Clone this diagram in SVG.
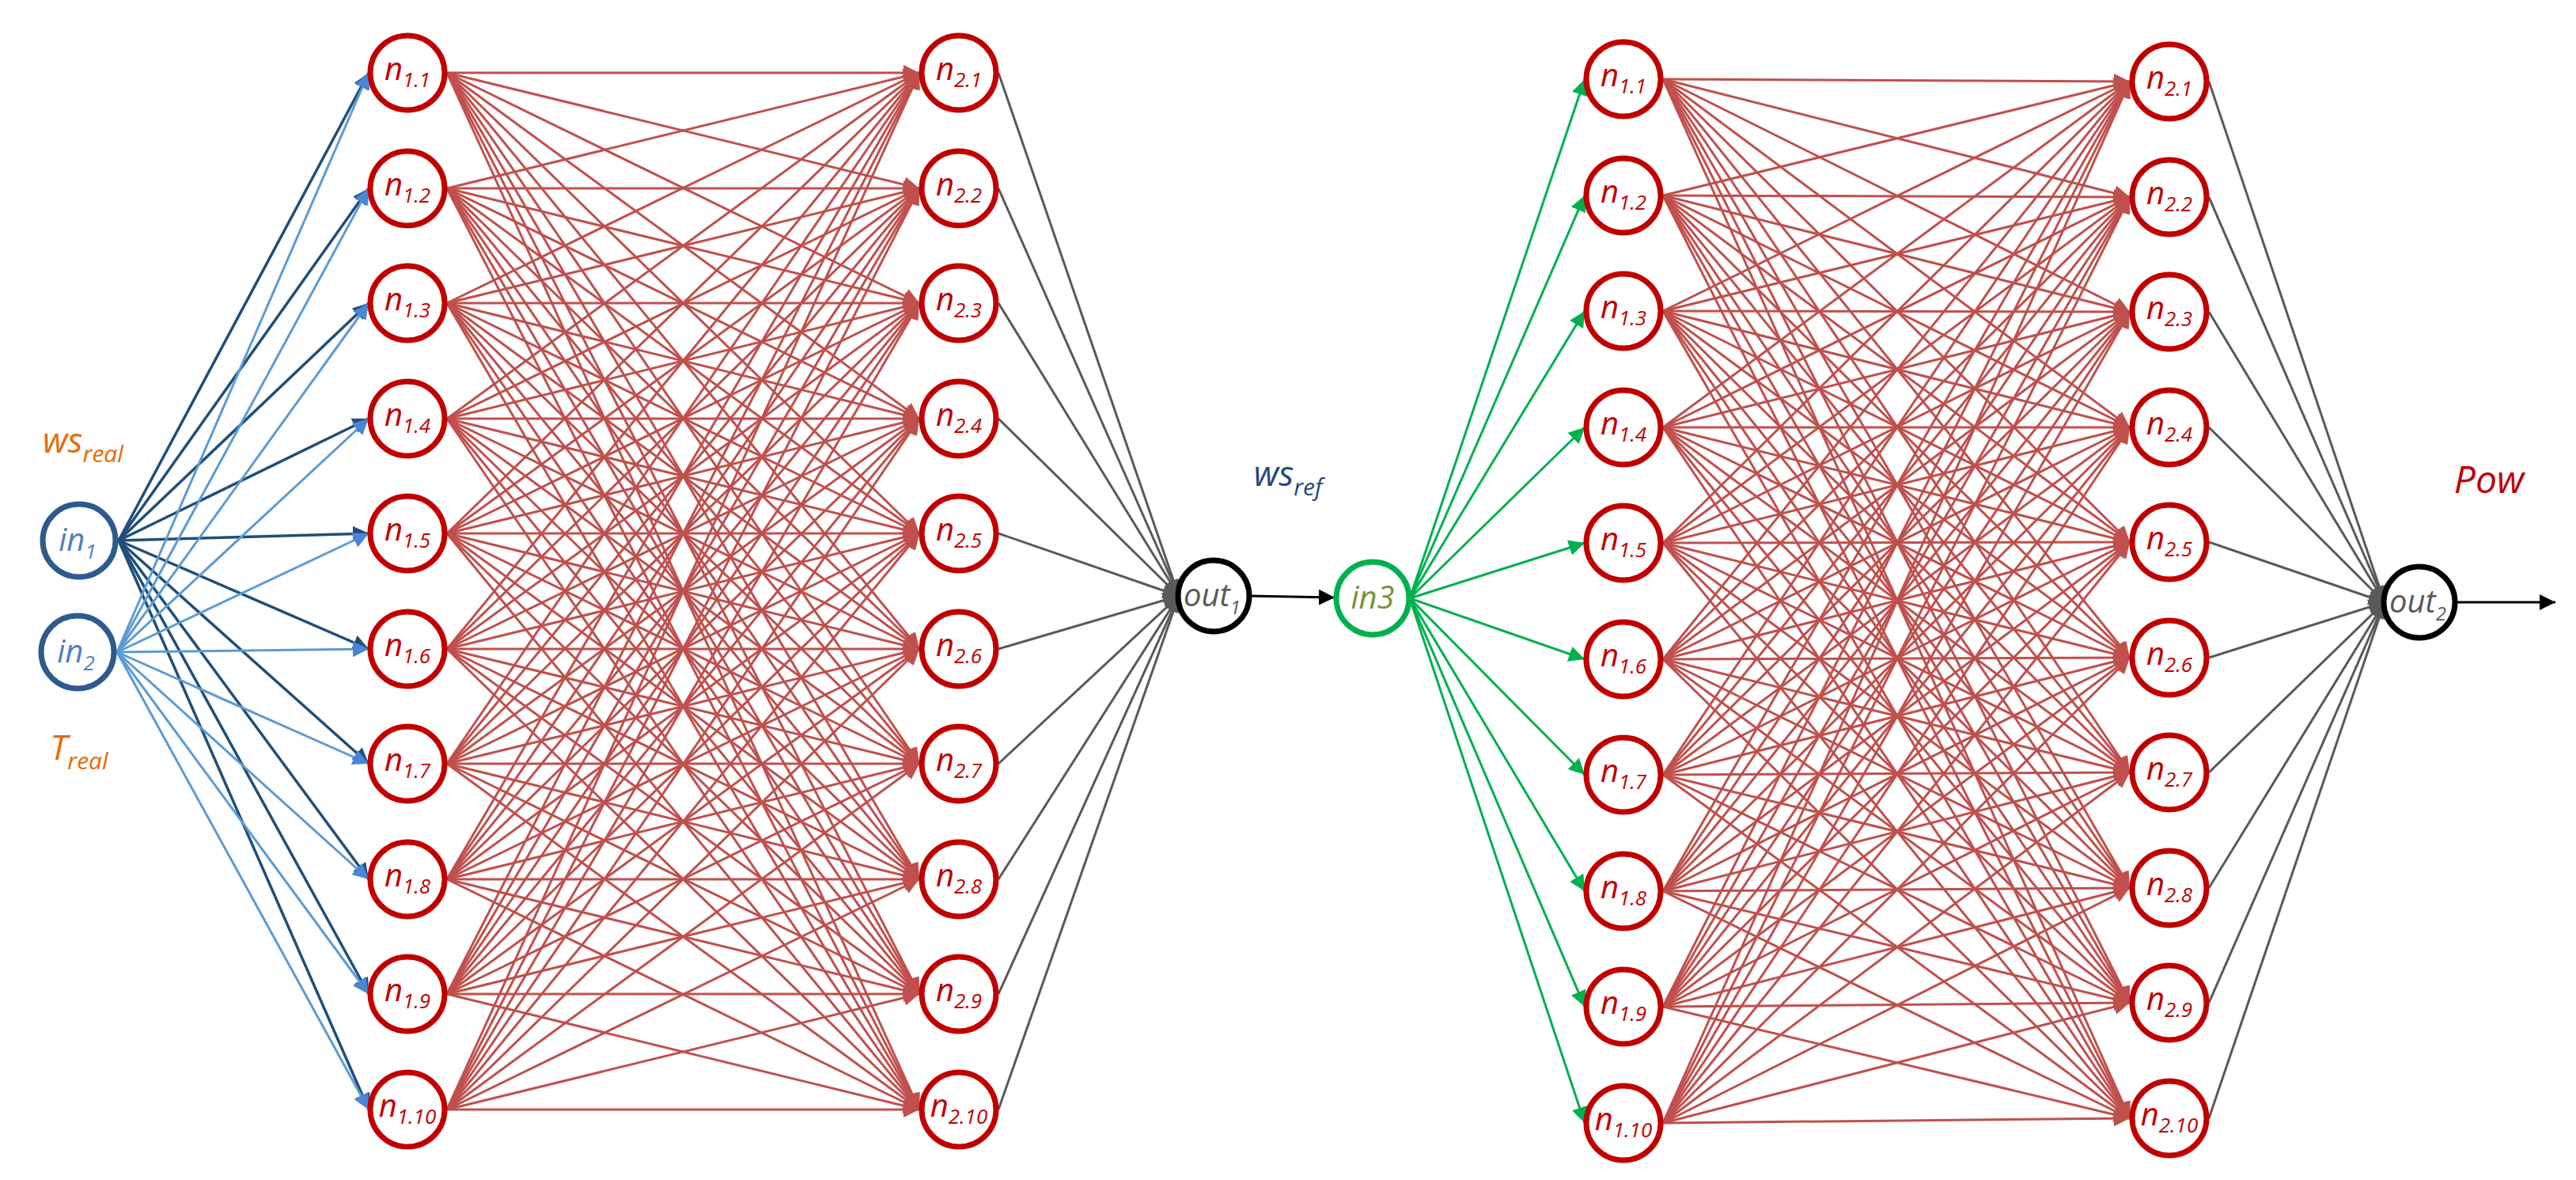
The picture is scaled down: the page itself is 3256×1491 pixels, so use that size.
<svg xmlns="http://www.w3.org/2000/svg" width="3256" height="1491" viewBox="0 0 3256 1491">
<style>
.nd{fill:#fff;stroke:#C00000;stroke-width:7}
.t{font-family:"Open Sans","Liberation Sans",sans-serif;font-style:italic;text-anchor:middle}
.nt{fill:#C00000;font-size:40px}
.r path{stroke:#C0504D;stroke-width:3;fill:none;marker-end:url(#mr)}
.b1 path{stroke:#1F4E79;stroke-width:3.5;fill:none;marker-end:url(#mb1)}
.b2 path{stroke:#5B9BD5;stroke-width:3;fill:none;marker-end:url(#mb2)}
.g path{stroke:#595959;stroke-width:3;fill:none;marker-end:url(#mg)}
.gr path{stroke:#00B050;stroke-width:3;fill:none;marker-end:url(#mgr)}
</style>
<defs>
<marker id="mr" markerUnits="userSpaceOnUse" markerWidth="24" markerHeight="20" refX="20" refY="10" orient="auto"><path d="M0 0L20 10L0 20z" fill="#C0504D"/></marker>
<marker id="mb1" markerUnits="userSpaceOnUse" markerWidth="24" markerHeight="20" refX="20" refY="10" orient="auto"><path d="M0 0L20 10L0 20z" fill="#1F4E79"/></marker>
<marker id="mb2" markerUnits="userSpaceOnUse" markerWidth="24" markerHeight="20" refX="20" refY="10" orient="auto"><path d="M0 0L20 10L0 20z" fill="#4A86D6"/></marker>
<marker id="mg" markerUnits="userSpaceOnUse" markerWidth="24" markerHeight="20" refX="20" refY="10" orient="auto"><path d="M0 0L20 10L0 20z" fill="#595959"/></marker>
<marker id="mgr" markerUnits="userSpaceOnUse" markerWidth="24" markerHeight="20" refX="20" refY="10" orient="auto"><path d="M0 0L20 10L0 20z" fill="#00B050"/></marker>
<marker id="mk" markerUnits="userSpaceOnUse" markerWidth="24" markerHeight="20" refX="20" refY="10" orient="auto"><path d="M0 0L20 10L0 20z" fill="#000"/></marker>
</defs>
<g id="connectors">
<g class="r">
<path d="M565 92L1162 92"/><path d="M565 92L1162 238"/><path d="M565 92L1162 383"/><path d="M565 92L1162 529"/><path d="M565 92L1162 674"/><path d="M565 92L1162 820"/><path d="M565 92L1162 965"/><path d="M565 92L1162 1111"/><path d="M565 92L1162 1256"/><path d="M565 92L1162 1402"/>
<path d="M565 238L1162 92"/><path d="M565 238L1162 238"/><path d="M565 238L1162 383"/><path d="M565 238L1162 529"/><path d="M565 238L1162 674"/><path d="M565 238L1162 820"/><path d="M565 238L1162 965"/><path d="M565 238L1162 1111"/><path d="M565 238L1162 1256"/><path d="M565 238L1162 1402"/>
<path d="M565 383L1162 92"/><path d="M565 383L1162 238"/><path d="M565 383L1162 383"/><path d="M565 383L1162 529"/><path d="M565 383L1162 674"/><path d="M565 383L1162 820"/><path d="M565 383L1162 965"/><path d="M565 383L1162 1111"/><path d="M565 383L1162 1256"/><path d="M565 383L1162 1402"/>
<path d="M565 529L1162 92"/><path d="M565 529L1162 238"/><path d="M565 529L1162 383"/><path d="M565 529L1162 529"/><path d="M565 529L1162 674"/><path d="M565 529L1162 820"/><path d="M565 529L1162 965"/><path d="M565 529L1162 1111"/><path d="M565 529L1162 1256"/><path d="M565 529L1162 1402"/>
<path d="M565 674L1162 92"/><path d="M565 674L1162 238"/><path d="M565 674L1162 383"/><path d="M565 674L1162 529"/><path d="M565 674L1162 674"/><path d="M565 674L1162 820"/><path d="M565 674L1162 965"/><path d="M565 674L1162 1111"/><path d="M565 674L1162 1256"/><path d="M565 674L1162 1402"/>
<path d="M565 820L1162 92"/><path d="M565 820L1162 238"/><path d="M565 820L1162 383"/><path d="M565 820L1162 529"/><path d="M565 820L1162 674"/><path d="M565 820L1162 820"/><path d="M565 820L1162 965"/><path d="M565 820L1162 1111"/><path d="M565 820L1162 1256"/><path d="M565 820L1162 1402"/>
<path d="M565 965L1162 92"/><path d="M565 965L1162 238"/><path d="M565 965L1162 383"/><path d="M565 965L1162 529"/><path d="M565 965L1162 674"/><path d="M565 965L1162 820"/><path d="M565 965L1162 965"/><path d="M565 965L1162 1111"/><path d="M565 965L1162 1256"/><path d="M565 965L1162 1402"/>
<path d="M565 1111L1162 92"/><path d="M565 1111L1162 238"/><path d="M565 1111L1162 383"/><path d="M565 1111L1162 529"/><path d="M565 1111L1162 674"/><path d="M565 1111L1162 820"/><path d="M565 1111L1162 965"/><path d="M565 1111L1162 1111"/><path d="M565 1111L1162 1256"/><path d="M565 1111L1162 1402"/>
<path d="M565 1256L1162 92"/><path d="M565 1256L1162 238"/><path d="M565 1256L1162 383"/><path d="M565 1256L1162 529"/><path d="M565 1256L1162 674"/><path d="M565 1256L1162 820"/><path d="M565 1256L1162 965"/><path d="M565 1256L1162 1111"/><path d="M565 1256L1162 1256"/><path d="M565 1256L1162 1402"/>
<path d="M565 1402L1162 92"/><path d="M565 1402L1162 238"/><path d="M565 1402L1162 383"/><path d="M565 1402L1162 529"/><path d="M565 1402L1162 674"/><path d="M565 1402L1162 820"/><path d="M565 1402L1162 965"/><path d="M565 1402L1162 1111"/><path d="M565 1402L1162 1256"/><path d="M565 1402L1162 1402"/>
</g>
<g class="r">
<path d="M2102 100L2692 103"/><path d="M2102 100L2692 249"/><path d="M2102 100L2692 394"/><path d="M2102 100L2692 540"/><path d="M2102 100L2692 685"/><path d="M2102 100L2692 831"/><path d="M2102 100L2692 976"/><path d="M2102 100L2692 1122"/><path d="M2102 100L2692 1267"/><path d="M2102 100L2692 1413"/>
<path d="M2102 247L2692 103"/><path d="M2102 247L2692 249"/><path d="M2102 247L2692 394"/><path d="M2102 247L2692 540"/><path d="M2102 247L2692 685"/><path d="M2102 247L2692 831"/><path d="M2102 247L2692 976"/><path d="M2102 247L2692 1122"/><path d="M2102 247L2692 1267"/><path d="M2102 247L2692 1413"/>
<path d="M2102 393L2692 103"/><path d="M2102 393L2692 249"/><path d="M2102 393L2692 394"/><path d="M2102 393L2692 540"/><path d="M2102 393L2692 685"/><path d="M2102 393L2692 831"/><path d="M2102 393L2692 976"/><path d="M2102 393L2692 1122"/><path d="M2102 393L2692 1267"/><path d="M2102 393L2692 1413"/>
<path d="M2102 540L2692 103"/><path d="M2102 540L2692 249"/><path d="M2102 540L2692 394"/><path d="M2102 540L2692 540"/><path d="M2102 540L2692 685"/><path d="M2102 540L2692 831"/><path d="M2102 540L2692 976"/><path d="M2102 540L2692 1122"/><path d="M2102 540L2692 1267"/><path d="M2102 540L2692 1413"/>
<path d="M2102 686L2692 103"/><path d="M2102 686L2692 249"/><path d="M2102 686L2692 394"/><path d="M2102 686L2692 540"/><path d="M2102 686L2692 685"/><path d="M2102 686L2692 831"/><path d="M2102 686L2692 976"/><path d="M2102 686L2692 1122"/><path d="M2102 686L2692 1267"/><path d="M2102 686L2692 1413"/>
<path d="M2102 833L2692 103"/><path d="M2102 833L2692 249"/><path d="M2102 833L2692 394"/><path d="M2102 833L2692 540"/><path d="M2102 833L2692 685"/><path d="M2102 833L2692 831"/><path d="M2102 833L2692 976"/><path d="M2102 833L2692 1122"/><path d="M2102 833L2692 1267"/><path d="M2102 833L2692 1413"/>
<path d="M2102 979L2692 103"/><path d="M2102 979L2692 249"/><path d="M2102 979L2692 394"/><path d="M2102 979L2692 540"/><path d="M2102 979L2692 685"/><path d="M2102 979L2692 831"/><path d="M2102 979L2692 976"/><path d="M2102 979L2692 1122"/><path d="M2102 979L2692 1267"/><path d="M2102 979L2692 1413"/>
<path d="M2102 1126L2692 103"/><path d="M2102 1126L2692 249"/><path d="M2102 1126L2692 394"/><path d="M2102 1126L2692 540"/><path d="M2102 1126L2692 685"/><path d="M2102 1126L2692 831"/><path d="M2102 1126L2692 976"/><path d="M2102 1126L2692 1122"/><path d="M2102 1126L2692 1267"/><path d="M2102 1126L2692 1413"/>
<path d="M2102 1272L2692 103"/><path d="M2102 1272L2692 249"/><path d="M2102 1272L2692 394"/><path d="M2102 1272L2692 540"/><path d="M2102 1272L2692 685"/><path d="M2102 1272L2692 831"/><path d="M2102 1272L2692 976"/><path d="M2102 1272L2692 1122"/><path d="M2102 1272L2692 1267"/><path d="M2102 1272L2692 1413"/>
<path d="M2102 1419L2692 103"/><path d="M2102 1419L2692 249"/><path d="M2102 1419L2692 394"/><path d="M2102 1419L2692 540"/><path d="M2102 1419L2692 685"/><path d="M2102 1419L2692 831"/><path d="M2102 1419L2692 976"/><path d="M2102 1419L2692 1122"/><path d="M2102 1419L2692 1267"/><path d="M2102 1419L2692 1413"/>
</g>
<g class="b1">
<path d="M150 683L466 92"/><path d="M150 683L466 238"/><path d="M150 683L466 383"/><path d="M150 683L466 529"/><path d="M150 683L466 674"/><path d="M150 683L466 820"/><path d="M150 683L466 965"/><path d="M150 683L466 1111"/><path d="M150 683L466 1256"/><path d="M150 683L466 1402"/>
</g>
<g class="b2">
<path d="M148 824L466 92"/><path d="M148 824L466 238"/><path d="M148 824L466 383"/><path d="M148 824L466 529"/><path d="M148 824L466 674"/><path d="M148 824L466 820"/><path d="M148 824L466 965"/><path d="M148 824L466 1111"/><path d="M148 824L466 1256"/><path d="M148 824L466 1402"/>
</g>
<g class="g">
<path d="M1262 92L1490 753"/><path d="M1262 238L1490 753"/><path d="M1262 383L1490 753"/><path d="M1262 529L1490 753"/><path d="M1262 674L1490 753"/><path d="M1262 820L1490 753"/><path d="M1262 965L1490 753"/><path d="M1262 1111L1490 753"/><path d="M1262 1256L1490 753"/><path d="M1262 1402L1490 753"/>
<path d="M2792 103L3014 761"/><path d="M2792 249L3014 761"/><path d="M2792 394L3014 761"/><path d="M2792 540L3014 761"/><path d="M2792 685L3014 761"/><path d="M2792 831L3014 761"/><path d="M2792 976L3014 761"/><path d="M2792 1122L3014 761"/><path d="M2792 1267L3014 761"/><path d="M2792 1413L3014 761"/>
</g>
<g class="gr">
<path d="M1782 756L2003 100"/><path d="M1782 756L2003 247"/><path d="M1782 756L2003 393"/><path d="M1782 756L2003 540"/><path d="M1782 756L2003 686"/><path d="M1782 756L2003 833"/><path d="M1782 756L2003 979"/><path d="M1782 756L2003 1126"/><path d="M1782 756L2003 1272"/><path d="M1782 756L2003 1419"/>
</g>
<path d="M1580 753L1687 755" stroke="#000" stroke-width="3" marker-end="url(#mk)"/>
<path d="M3104 761L3230 761" stroke="#000" stroke-width="3" marker-end="url(#mk)"/>
</g>
<g id="in1"><circle cx="100" cy="683" r="46" fill="#fff" stroke="#2E5A8C" stroke-width="7"/><text x="98" y="696" class="t" font-size="40" fill="#4F81BD">in<tspan dy="10" font-size="26">1</tspan></text></g>
<g id="in2"><circle cx="98" cy="824" r="46" fill="#fff" stroke="#2E5A8C" stroke-width="7"/><text x="96" y="837" class="t" font-size="40" fill="#4F81BD">in<tspan dy="10" font-size="26">2</tspan></text></g>
<text x="105" y="572" class="t" font-size="44" fill="#E46C0A">ws<tspan dy="12" font-size="30">real</tspan></text>
<text x="100" y="960" class="t" font-size="44" fill="#E46C0A">T<tspan dy="12" font-size="30">real</tspan></text>
<text x="1628" y="614" class="t" font-size="44" fill="#1F497D">ws<tspan dy="12" font-size="30">ref</tspan></text>
<text x="3146" y="623" class="t" font-size="48" fill="#C00000">Pow</text>
<g id="L1a">
<g><circle class="nd" cx="515" cy="92" r="47"/><text class="t nt" x="515" y="101">n<tspan dy="9" font-size="26">1.1</tspan></text></g>
<g><circle class="nd" cx="515" cy="238" r="47"/><text class="t nt" x="515" y="247">n<tspan dy="9" font-size="26">1.2</tspan></text></g>
<g><circle class="nd" cx="515" cy="383" r="47"/><text class="t nt" x="515" y="392">n<tspan dy="9" font-size="26">1.3</tspan></text></g>
<g><circle class="nd" cx="515" cy="529" r="47"/><text class="t nt" x="515" y="538">n<tspan dy="9" font-size="26">1.4</tspan></text></g>
<g><circle class="nd" cx="515" cy="674" r="47"/><text class="t nt" x="515" y="683">n<tspan dy="9" font-size="26">1.5</tspan></text></g>
<g><circle class="nd" cx="515" cy="820" r="47"/><text class="t nt" x="515" y="829">n<tspan dy="9" font-size="26">1.6</tspan></text></g>
<g><circle class="nd" cx="515" cy="965" r="47"/><text class="t nt" x="515" y="974">n<tspan dy="9" font-size="26">1.7</tspan></text></g>
<g><circle class="nd" cx="515" cy="1111" r="47"/><text class="t nt" x="515" y="1120">n<tspan dy="9" font-size="26">1.8</tspan></text></g>
<g><circle class="nd" cx="515" cy="1256" r="47"/><text class="t nt" x="515" y="1265">n<tspan dy="9" font-size="26">1.9</tspan></text></g>
<g><circle class="nd" cx="515" cy="1402" r="47"/><text class="t nt" x="515" y="1411">n<tspan dy="9" font-size="26">1.10</tspan></text></g>
</g>
<g id="L2a">
<g><circle class="nd" cx="1212" cy="92" r="47"/><text class="t nt" x="1212" y="101">n<tspan dy="9" font-size="26">2.1</tspan></text></g>
<g><circle class="nd" cx="1212" cy="238" r="47"/><text class="t nt" x="1212" y="247">n<tspan dy="9" font-size="26">2.2</tspan></text></g>
<g><circle class="nd" cx="1212" cy="383" r="47"/><text class="t nt" x="1212" y="392">n<tspan dy="9" font-size="26">2.3</tspan></text></g>
<g><circle class="nd" cx="1212" cy="529" r="47"/><text class="t nt" x="1212" y="538">n<tspan dy="9" font-size="26">2.4</tspan></text></g>
<g><circle class="nd" cx="1212" cy="674" r="47"/><text class="t nt" x="1212" y="683">n<tspan dy="9" font-size="26">2.5</tspan></text></g>
<g><circle class="nd" cx="1212" cy="820" r="47"/><text class="t nt" x="1212" y="829">n<tspan dy="9" font-size="26">2.6</tspan></text></g>
<g><circle class="nd" cx="1212" cy="965" r="47"/><text class="t nt" x="1212" y="974">n<tspan dy="9" font-size="26">2.7</tspan></text></g>
<g><circle class="nd" cx="1212" cy="1111" r="47"/><text class="t nt" x="1212" y="1120">n<tspan dy="9" font-size="26">2.8</tspan></text></g>
<g><circle class="nd" cx="1212" cy="1256" r="47"/><text class="t nt" x="1212" y="1265">n<tspan dy="9" font-size="26">2.9</tspan></text></g>
<g><circle class="nd" cx="1212" cy="1402" r="47"/><text class="t nt" x="1212" y="1411">n<tspan dy="9" font-size="26">2.10</tspan></text></g>
</g>
<g id="out1"><circle cx="1534" cy="753" r="45" fill="#fff" stroke="#000" stroke-width="7"/><text x="1532" y="766" class="t" font-size="40" fill="#595959">out<tspan dy="10" font-size="24">1</tspan></text></g>
<g id="in3"><circle cx="1735" cy="756" r="46" fill="#fff" stroke="#00B050" stroke-width="7"/><text x="1735" y="769" class="t" font-size="40" fill="#77933C">in3</text></g>
<g id="L1b">
<g><circle class="nd" cx="2052" cy="100" r="47"/><text class="t nt" x="2052" y="109">n<tspan dy="9" font-size="26">1.1</tspan></text></g>
<g><circle class="nd" cx="2052" cy="247" r="47"/><text class="t nt" x="2052" y="256">n<tspan dy="9" font-size="26">1.2</tspan></text></g>
<g><circle class="nd" cx="2052" cy="393" r="47"/><text class="t nt" x="2052" y="402">n<tspan dy="9" font-size="26">1.3</tspan></text></g>
<g><circle class="nd" cx="2052" cy="540" r="47"/><text class="t nt" x="2052" y="549">n<tspan dy="9" font-size="26">1.4</tspan></text></g>
<g><circle class="nd" cx="2052" cy="686" r="47"/><text class="t nt" x="2052" y="695">n<tspan dy="9" font-size="26">1.5</tspan></text></g>
<g><circle class="nd" cx="2052" cy="833" r="47"/><text class="t nt" x="2052" y="842">n<tspan dy="9" font-size="26">1.6</tspan></text></g>
<g><circle class="nd" cx="2052" cy="979" r="47"/><text class="t nt" x="2052" y="988">n<tspan dy="9" font-size="26">1.7</tspan></text></g>
<g><circle class="nd" cx="2052" cy="1126" r="47"/><text class="t nt" x="2052" y="1135">n<tspan dy="9" font-size="26">1.8</tspan></text></g>
<g><circle class="nd" cx="2052" cy="1272" r="47"/><text class="t nt" x="2052" y="1281">n<tspan dy="9" font-size="26">1.9</tspan></text></g>
<g><circle class="nd" cx="2052" cy="1419" r="47"/><text class="t nt" x="2052" y="1428">n<tspan dy="9" font-size="26">1.10</tspan></text></g>
</g>
<g id="L2b">
<g><circle class="nd" cx="2742" cy="103" r="47"/><text class="t nt" x="2742" y="112">n<tspan dy="9" font-size="26">2.1</tspan></text></g>
<g><circle class="nd" cx="2742" cy="249" r="47"/><text class="t nt" x="2742" y="258">n<tspan dy="9" font-size="26">2.2</tspan></text></g>
<g><circle class="nd" cx="2742" cy="394" r="47"/><text class="t nt" x="2742" y="403">n<tspan dy="9" font-size="26">2.3</tspan></text></g>
<g><circle class="nd" cx="2742" cy="540" r="47"/><text class="t nt" x="2742" y="549">n<tspan dy="9" font-size="26">2.4</tspan></text></g>
<g><circle class="nd" cx="2742" cy="685" r="47"/><text class="t nt" x="2742" y="694">n<tspan dy="9" font-size="26">2.5</tspan></text></g>
<g><circle class="nd" cx="2742" cy="831" r="47"/><text class="t nt" x="2742" y="840">n<tspan dy="9" font-size="26">2.6</tspan></text></g>
<g><circle class="nd" cx="2742" cy="976" r="47"/><text class="t nt" x="2742" y="985">n<tspan dy="9" font-size="26">2.7</tspan></text></g>
<g><circle class="nd" cx="2742" cy="1122" r="47"/><text class="t nt" x="2742" y="1131">n<tspan dy="9" font-size="26">2.8</tspan></text></g>
<g><circle class="nd" cx="2742" cy="1267" r="47"/><text class="t nt" x="2742" y="1276">n<tspan dy="9" font-size="26">2.9</tspan></text></g>
<g><circle class="nd" cx="2742" cy="1413" r="47"/><text class="t nt" x="2742" y="1422">n<tspan dy="9" font-size="26">2.10</tspan></text></g>
</g>
<g id="out2"><circle cx="3058" cy="761" r="45" fill="#fff" stroke="#000" stroke-width="7"/><text x="3056" y="774" class="t" font-size="40" fill="#595959">out<tspan dy="10" font-size="24">2</tspan></text></g>
</svg>
